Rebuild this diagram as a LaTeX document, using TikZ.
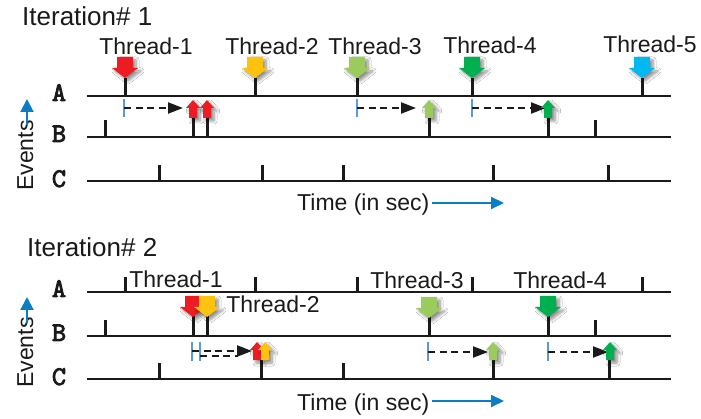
\documentclass[tikz,border=0pt]{standalone}
\usepackage{fontspec}
\setmainfont{Liberation Sans}
\newfontfamily\monob[Extension=.otf, FakeBold=3]{lmmono10-regular}
\usetikzlibrary{arrows.meta,shadows.blur}
\definecolor{tred}{HTML}{ED1C24}
\definecolor{tyel}{HTML}{FFC20E}
\definecolor{tlgr}{HTML}{9BCB5C}
\definecolor{tgrn}{HTML}{00AF50}
\definecolor{tcyn}{HTML}{00B9F1}
\definecolor{axblue}{HTML}{0B7DC4}
\definecolor{tickblue}{HTML}{5B9BD5}
\definecolor{ink}{HTML}{1A1A1A}
\tikzset{
  axisline/.style={line width=2.5pt, draw=ink},
  tickmark/.style={line width=3pt, draw=ink},
  lbl/.style={font=\monob\fontsize{27}{31}\selectfont, inner sep=0, anchor=base, text=ink},
  thr/.style={font=\fontsize{23}{27}\selectfont, inner sep=0, anchor=base, text=ink},
  iter/.style={font=\fontsize{26}{30}\selectfont, inner sep=0, anchor=base west, text=ink},
  evt/.style={font=\fontsize{23}{27}\selectfont, inner sep=0, rotate=90, anchor=base west, text=ink},
  timelbl/.style={font=\fontsize{23}{27}\selectfont, inner sep=0, anchor=base west, text=ink},
  bluearrow/.style={draw=axblue, line width=2pt, -{Triangle[length=13pt,width=13pt]}},
  bluetick/.style={draw=tickblue, line width=2pt},
  dasharrow/.style={draw=ink, line width=2.2pt, dash pattern=on 7pt off 4.5pt, -{Triangle[length=15pt,width=11pt]}},
  dashline/.style={draw=ink, line width=2.2pt, dash pattern=on 7pt off 4.5pt},
  sh/.style={blur shadow={shadow xshift=3pt, shadow yshift=-3pt, shadow blur steps=6, shadow blur radius=3pt, shadow opacity=45}},
  bigdown/.pic={\fill[pic actions, sh] (0,0) -- (-13,-10) -- (-8,-10) -- (-8,-21) -- (8,-21) -- (8,-10) -- (13,-10) -- cycle;},
  smallup/.pic={\fill[pic actions, sh] (0,0) -- (-7,8) -- (-4,8) -- (-4,18) -- (4,18) -- (4,8) -- (7,8) -- cycle;},
}
\begin{document}
\begin{tikzpicture}[x=1pt,y=-1pt]
\useasboundingbox[fill=white] (0,0) rectangle (701,419);

%% ================= Iteration 1 =================
\node[iter] (it1) at (22,26) {Iteration\# 1};

% event lines
\coordinate (A1s) at (87,96);  \coordinate (A1e) at (671,96);
\coordinate (B1s) at (87,137); \coordinate (B1e) at (671,137);
\coordinate (C1s) at (87,181); \coordinate (C1e) at (671,181);
\draw[axisline] (A1s) -- (A1e);
\draw[axisline] (B1s) -- (B1e);
\draw[axisline] (C1s) -- (C1e);

\node[lbl] (lA1) at (59,101) {A};
\node[lbl] (lB1) at (59,142) {B};
\node[lbl] (lC1) at (59,187) {C};

% Events axis
\node[evt] (ev1) at (33,191) {Events};
\coordinate (ev1b) at (27,125); \coordinate (ev1t) at (27,99);
\draw[bluearrow] (ev1b) -- (ev1t);

% Time axis
\node[timelbl] (tm1) at (297,211) {Time (in sec)};
\coordinate (tm1s) at (432,203); \coordinate (tm1e) at (504,203);
\draw[bluearrow, -{Triangle[length=13pt,width=12pt]}] (tm1s) -- (tm1e);

% ticks on A (under thread arrows)
\foreach \x in {125,255,357,472,642} \draw[tickmark] (\x,78) -- (\x,96);
% ticks on B
\foreach \x in {105,595} \draw[tickmark] (\x,120) -- (\x,137);
\foreach \x in {193,207,429,548} \draw[tickmark] (\x,117) -- (\x,137);
% ticks on C
\foreach \x in {159,262,343,493,608} \draw[tickmark] (\x,165) -- (\x,181);

% dashed arrows
\foreach \s/\e [count=\i] in {124/183,357/416,472/546}{
  \draw[bluetick] (\s,99) -- (\s,117);
  \coordinate (d1s\i) at (\s,108); \coordinate (d1e\i) at (\e,108);
  \draw[dasharrow] (d1s\i) -- (d1e\i);
}

% thread arrows
\pic[fill=tred] at (125,78) {bigdown};
\pic[fill=tyel] at (255,78) {bigdown};
\pic[fill=tlgr] at (357,78) {bigdown};
\pic[fill=tgrn] at (472,78) {bigdown};
\pic[fill=tcyn] at (642,78) {bigdown};
\pic[fill=tred] at (193,100) {smallup};
\pic[fill=tred] at (207,100) {smallup};
\pic[fill=tlgr] at (429,100) {smallup};
\pic[fill=tgrn] at (548,100) {smallup};

\node[thr] (t11) at (146,55) {Thread-1};
\node[thr] (t12) at (272,55) {Thread-2};
\node[thr] (t13) at (375,55) {Thread-3};
\node[thr] (t14) at (490,54) {Thread-4};
\node[thr] (t15) at (650,53) {Thread-5};

%% ================= Iteration 2 =================
\node[iter] (it2) at (27,257) {Iteration\# 2};

\coordinate (A2s) at (87,292); \coordinate (A2e) at (671,292);
\coordinate (B2s) at (87,336); \coordinate (B2e) at (671,336);
\coordinate (C2s) at (87,379); \coordinate (C2e) at (671,379);
\draw[axisline] (A2s) -- (A2e);
\draw[axisline] (B2s) -- (B2e);
\draw[axisline] (C2s) -- (C2e);

\node[lbl] (lA2) at (59,297) {A};
\node[lbl] (lB2) at (59,341) {B};
\node[lbl] (lC2) at (59,385) {C};

\node[evt] (ev2) at (33,388) {Events};
\coordinate (ev2b) at (27,323); \coordinate (ev2t) at (27,297);
\draw[bluearrow] (ev2b) -- (ev2t);

\node[timelbl] (tm2) at (297,410) {Time (in sec)};
\coordinate (tm2s) at (432,401); \coordinate (tm2e) at (504,401);
\draw[bluearrow, -{Triangle[length=13pt,width=12pt]}] (tm2s) -- (tm2e);

% ticks on A
\foreach \x in {125,255,357,472,642} \draw[tickmark] (\x,277) -- (\x,292);
% ticks on B
\foreach \x in {105,595} \draw[tickmark] (\x,320) -- (\x,336);
\foreach \x in {193,207,429,548} \draw[tickmark] (\x,316) -- (\x,336);
% ticks on C
\foreach \x in {159,343} \draw[tickmark] (\x,363) -- (\x,379);
\foreach \x in {261,493,609} \draw[tickmark] (\x,359) -- (\x,379);

% dashed arrows
\draw[bluetick] (192,342) -- (192,361);
\draw[bluetick] (200,342) -- (200,361);
\coordinate (d2sa) at (192,351); \coordinate (d2ea) at (252,351);
\coordinate (d2sb) at (200,356); \coordinate (d2eb) at (238,356);
\draw[dasharrow] (d2sa) -- (d2ea);
\draw[dashline] (d2sb) -- (d2eb);
\foreach \s/\e [count=\i] in {428/488,548/608}{
  \draw[bluetick] (\s,342) -- (\s,361);
  \coordinate (d2s\i) at (\s,352); \coordinate (d2e\i) at (\e,352);
  \draw[dasharrow] (d2s\i) -- (d2e\i);
}

% thread arrows
\pic[fill=tred] at (193,317) {bigdown};
\pic[fill=tyel] at (207,317) {bigdown};
\pic[fill=tlgr] at (429,318) {bigdown};
\pic[fill=tgrn] at (548,317) {bigdown};
\pic[fill=tred] at (257,342) {smallup};
\pic[fill=tyel] at (265,342) {smallup};
\pic[fill=tlgr] at (493,342) {smallup};
\pic[fill=tgrn] at (610,342) {smallup};

\node[thr] (t21) at (176,288) {Thread-1};
\node[thr] (t22) at (273,313) {Thread-2};
\node[thr] (t23) at (417,289) {Thread-3};
\node[thr] (t24) at (560,289) {Thread-4};
\end{tikzpicture}
\end{document}
